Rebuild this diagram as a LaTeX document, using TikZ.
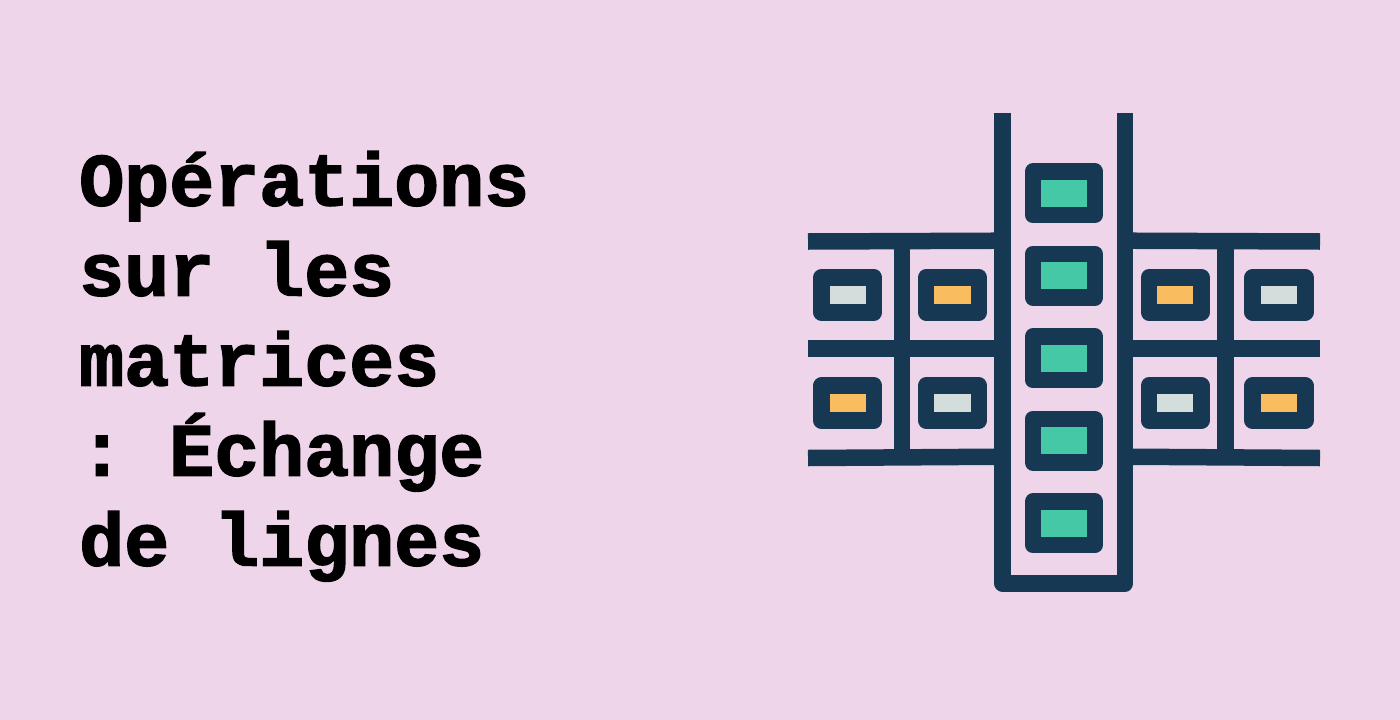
\documentclass[tikz,border=0pt]{standalone}
\usepackage{fontspec}
\usepackage{xcolor}
\setmonofont[FakeBold=2]{Liberation Mono Bold}
\definecolor{mybg}{RGB}{239, 213, 234}
\definecolor{mynavy}{RGB}{23, 56, 82}
\definecolor{mygreen}{RGB}{68, 200, 165}
\definecolor{myyellow}{RGB}{249, 188, 94}
\definecolor{mygrey}{RGB}{211, 222, 220}
\tikzset{
  rail/.style={draw=mynavy, line width=16.5pt, line join=round},
  bigcell/.style={draw=mynavy, line width=16.5pt, line join=round, inner sep=0pt,
                  minimum width=62pt, minimum height=43.5pt},
  smallcell/.style={draw=mynavy, line width=16.5pt, line join=round, inner sep=0pt,
                    minimum width=52.8pt, minimum height=34.8pt}
}
\begin{document}
\begin{tikzpicture}[x=1pt, y=-1pt]

% Page and its margins
\fill[mybg] (0, 0) rectangle (1400, 720);
\useasboundingbox (0, 0) rectangle (1400, 720);

% Title
\node[anchor=north west, inner sep=0pt, align=left, text=black,
      font=\ttfamily\fontsize{75}{90}\selectfont] (title) at (79, 151) {%
  Opérations\\
  sur les\\
  matrices\\
  : Échange\\
  de lignes
};

% Horizontal rails, left and right of the middle column
\draw[rail] (808, 241.5) -- (1002.7, 240.7);
\draw[rail] (808, 348.3) -- (1002.7, 348.3);
\draw[rail] (808, 458) -- (1002.7, 456.7);
\draw[rail] (1125, 240.7) -- (1320, 241.5);
\draw[rail] (1125, 348.3) -- (1320, 348.3);
\draw[rail] (1125, 456.7) -- (1320, 458);

% Short uprights between the rails
\draw[rail] (902.2, 241) -- (902.2, 457);
\draw[rail] (1225.5, 241) -- (1225.5, 457);

% Middle column, open at the top
\draw[rail] (1002.7, 113.3) -- (1002.7, 583.5) -- (1125, 583.5) -- (1125, 113.3);

% Middle column: green cells
\node[bigcell, fill=mygreen] (mid1) at (1063.9, 193.3) {};
\node[bigcell, fill=mygreen] (mid2) at (1063.9, 275.8) {};
\node[bigcell, fill=mygreen] (mid3) at (1063.9, 358.3) {};
\node[bigcell, fill=mygreen] (mid4) at (1063.9, 440.8) {};
\node[bigcell, fill=mygreen] (mid5) at (1063.9, 523.3) {};

% Left block
\node[smallcell, fill=mygrey] (left11) at (847.7, 294.9) {};
\node[smallcell, fill=myyellow] (left12) at (952.5, 294.9) {};
\node[smallcell, fill=myyellow] (left21) at (847.7, 403.1) {};
\node[smallcell, fill=mygrey] (left22) at (952.5, 403.1) {};

% Right block
\node[smallcell, fill=myyellow] (right11) at (1175.2, 294.9) {};
\node[smallcell, fill=mygrey] (right12) at (1278.9, 294.9) {};
\node[smallcell, fill=mygrey] (right21) at (1175.2, 403.1) {};
\node[smallcell, fill=myyellow] (right22) at (1278.9, 403.1) {};

\end{tikzpicture}
\end{document}
